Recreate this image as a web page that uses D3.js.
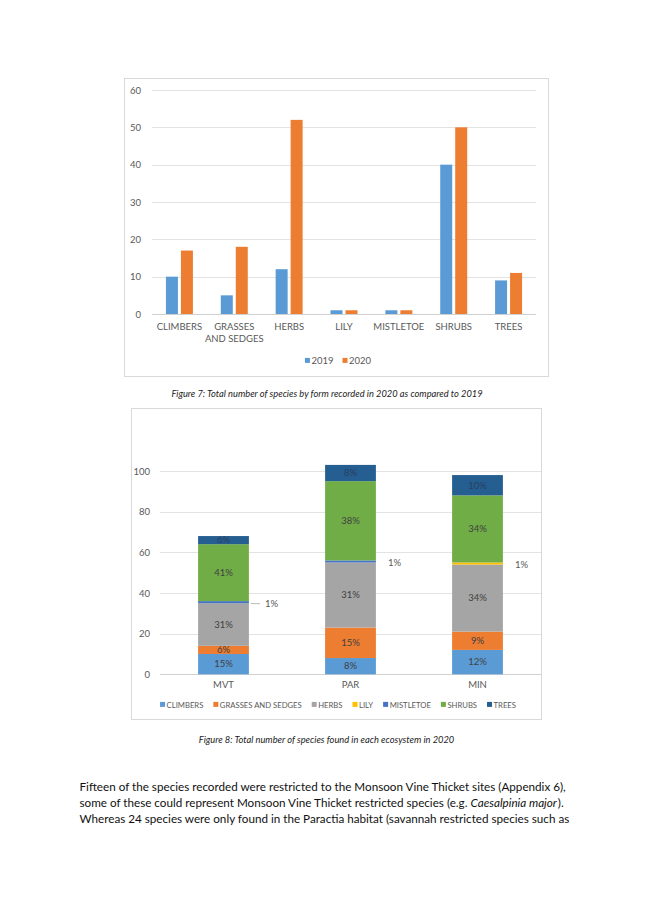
<!DOCTYPE html>
<html lang="en">
  <head>
    <meta charset="utf-8">
    <title>Figure 7 and Figure 8</title>
    <script src="https://d3js.org/d3.v7.js"></script>
    <style>
      body { margin: 0; background: white; }
      text { font-family: Lato, "Liberation Sans", sans-serif; }
    </style>
  </head>
  <body>
    <script>
      // ---- data, figure 7 ----
      const forms = ["CLIMBERS", "GRASSES AND SEDGES", "HERBS", "LILY", "MISTLETOE", "SHRUBS", "TREES"];
      const formLabels = [["CLIMBERS"], ["GRASSES", "AND SEDGES"], ["HERBS"], ["LILY"], ["MISTLETOE"], ["SHRUBS"], ["TREES"]];
      const years = ["2019", "2020"];
      const count2019 = [10, 5, 12, 1, 1, 40, 9];
      const count2020 = [17, 18, 52, 1, 1, 50, 11];
      const yTicks1 = [0, 10, 20, 30, 40, 50, 60];

      // ---- data, figure 8 ----
      const sites = ["MVT", "PAR", "MIN"];
      const climbers = [10, 8, 12];
      const grasses = [4, 15, 9];
      const herbs = [21, 32, 33];
      const lily = [0, 0, 1];
      const mistletoe = [1, 1, 0];
      const shrubs = [28, 39, 33];
      const trees = [4, 8, 10];
      const yTicks2 = [0, 20, 40, 60, 80, 100];

      const formColors = ["#5B9BD5", "#ED7D31", "#A5A5A5", "#FFC000", "#4472C4", "#70AD47", "#255E91"];
      const yearColors = ["#5B9BD5", "#ED7D31"];

      const W = 653, H = 923;
      const svg = d3.select("body").append("svg")
                    .attr("width", W)
                    .attr("height", H);

      svg.append("rect").attr("width", W).attr("height", H).attr("fill", "white");

      const axisGrey = "#595959";
      const gridGrey = "#e3e3e3";

      // draws a legend row centred on cx
      function legend(g, names, colors, cx, cy, size, gap) {
        const items = g.append("g");
        let x = 0;
        names.forEach((n, i) => {
          items.append("rect")
               .attr("x", x).attr("y", cy - 2.6)
               .attr("width", 5).attr("height", 5)
               .attr("fill", colors[i]);
          const t = items.append("text")
                         .attr("x", x + 6.5).attr("y", cy + 3)
                         .attr("font-size", size)
                         .attr("fill", axisGrey)
                         .text(n);
          x += 6.5 + t.node().getComputedTextLength() + gap;
        });
        const total = x - gap;
        items.attr("transform", `translate(${cx - total / 2},0)`);
      }

      // ================= Figure 7 =================
      const f1 = svg.append("g");
      f1.append("rect")
        .attr("x", 124.5).attr("y", 78.5)
        .attr("width", 424).attr("height", 298)
        .attr("fill", "white").attr("stroke", "#d9d9d9");

      const x1 = d3.scaleBand().domain(forms).range([152, 536]);
      const xs1 = d3.scaleBand().domain(years).range([0, x1.bandwidth()])
                    .paddingInner(0.2).paddingOuter(0.93);
      const y1 = d3.scaleLinear().domain([0, 60]).range([314, 90]);

      f1.append("g").selectAll("line").data(yTicks1).join("line")
        .attr("x1", 152).attr("x2", 536)
        .attr("y1", d => Math.round(y1(d)) + 0.5).attr("y2", d => Math.round(y1(d)) + 0.5)
        .attr("stroke", d => d === 0 ? "#d0d0d0" : gridGrey);

      const yAxis1 = d3.axisLeft(y1).tickValues(yTicks1).tickSize(0).tickPadding(0);
      f1.append("g").attr("transform", "translate(141,0)").call(yAxis1)
        .call(g => g.select(".domain").remove())
        .selectAll("text").attr("font-size", 9.5).attr("fill", axisGrey)
        .attr("font-family", "Lato, 'Liberation Sans', sans-serif");

      const series1 = [count2019, count2020];
      series1.forEach((vals, si) => {
        f1.append("g").selectAll("rect").data(vals).join("rect")
          .attr("x", (d, i) => x1(forms[i]) + xs1(years[si]))
          .attr("y", d => y1(d))
          .attr("width", xs1.bandwidth())
          .attr("height", d => y1(0) - y1(d))
          .attr("fill", yearColors[si]);
      });

      formLabels.forEach((lines, i) => {
        const t = f1.append("text")
                    .attr("x", x1(forms[i]) + x1.bandwidth() / 2)
                    .attr("y", 330)
                    .attr("text-anchor", "middle")
                    .attr("font-size", 9.5)
                    .attr("fill", axisGrey);
        lines.forEach((l, k) => {
          t.append("tspan").attr("x", x1(forms[i]) + x1.bandwidth() / 2)
           .attr("dy", k === 0 ? 0 : 11.5).text(l);
        });
      });

      legend(f1, years, yearColors, 338, 360.5, 9.5, 9);

      svg.append("text")
         .attr("x", 327).attr("y", 397)
         .attr("text-anchor", "middle")
         .attr("font-size", 9.3).attr("font-style", "italic")
         .attr("fill", "#222")
         .text("Figure 7: Total number of species by form recorded in 2020 as compared to 2019");

      // ================= Figure 8 =================
      const f2 = svg.append("g");
      f2.append("rect")
        .attr("x", 131.5).attr("y", 408.5)
        .attr("width", 410).attr("height", 311)
        .attr("fill", "white").attr("stroke", "#d9d9d9");

      const x2 = d3.scaleBand().domain(sites).range([160, 541])
                   .paddingInner(0.6).paddingOuter(0.3);
      const y2 = d3.scaleLinear().domain([0, 100]).range([674.3, 471]);

      f2.append("g").selectAll("line").data(yTicks2).join("line")
        .attr("x1", 160).attr("x2", 541)
        .attr("y1", d => Math.round(y2(d)) + 0.5).attr("y2", d => Math.round(y2(d)) + 0.5)
        .attr("stroke", d => d === 0 ? "#d0d0d0" : gridGrey);

      const yAxis2 = d3.axisLeft(y2).tickValues(yTicks2).tickSize(0).tickPadding(0);
      f2.append("g").attr("transform", "translate(150,0)").call(yAxis2)
        .call(g => g.select(".domain").remove())
        .selectAll("text").attr("font-size", 9.5).attr("fill", axisGrey)
        .attr("font-family", "Lato, 'Liberation Sans', sans-serif");

      const layers = [climbers, grasses, herbs, lily, mistletoe, shrubs, trees];
      const rows = sites.map((s, i) => {
        const r = { site: s };
        forms.forEach((f, k) => { r[f] = layers[k][i]; });
        return r;
      });
      const totals = sites.map((s, i) => d3.sum(layers, l => l[i]));
      const stacked = d3.stack().keys(forms)(rows);

      stacked.forEach((layer, k) => {
        const g = f2.append("g");
        g.selectAll("rect").data(layer).join("rect")
         .attr("x", d => x2(d.data.site))
         .attr("y", d => y2(d[1]))
         .attr("width", x2.bandwidth())
         .attr("height", d => y2(d[0]) - y2(d[1]))
         .attr("fill", formColors[k]);
      });

      // percentage labels
      stacked.forEach((layer, k) => {
        layer.forEach((d, i) => {
          const v = d[1] - d[0];
          if (v <= 0) return;
          const pct = Math.round(v / totals[i] * 100) + "%";
          const cy = y2((d[0] + d[1]) / 2);
          if (v / totals[i] < 0.02) {
            // small slice: label sits outside the bar
            const bx = x2(d.data.site) + x2.bandwidth();
            const off = i === 0 ? 16 : 12;
            if (i === 0) {
              f2.append("line")
                .attr("x1", bx + 2).attr("x2", bx + off - 5)
                .attr("y1", cy + 1.5).attr("y2", cy + 1.5)
                .attr("stroke", "#a6a6a6").attr("stroke-width", 0.8);
            }
            f2.append("text")
              .attr("x", bx + off).attr("y", cy + 4.5)
              .attr("font-size", 9.5).attr("fill", axisGrey)
              .text(pct);
          } else {
            f2.append("text")
              .attr("x", x2(d.data.site) + x2.bandwidth() / 2)
              .attr("y", cy + 3.3)
              .attr("text-anchor", "middle")
              .attr("font-size", 9.5)
              .attr("fill", k === 6 ? "#2a3f5f" : "#404040")
              .text(pct);
          }
        });
      });

      const xAxis2 = d3.axisBottom(x2).tickSize(0).tickPadding(0);
      f2.append("g").attr("transform", "translate(0,681.5)").call(xAxis2)
        .call(g => g.select(".domain").remove())
        .selectAll("text").attr("font-size", 9.5).attr("fill", axisGrey)
        .attr("font-family", "Lato, 'Liberation Sans', sans-serif");

      legend(f2, forms, formColors, 338, 704.5, 7.7, 10);

      svg.append("text")
         .attr("x", 326.5).attr("y", 743)
         .attr("text-anchor", "middle")
         .attr("font-size", 9.3).attr("font-style", "italic")
         .attr("fill", "#222")
         .text("Figure 8: Total number of species found in each ecosystem in 2020");

      // ================= body text =================
      const para = svg.append("g").attr("fill", "#111");
      const first = para.append("text").attr("x", 79.5).attr("y", 791)
          .attr("font-size", 12)
          .text("Fifteen of the species recorded were restricted to the Monsoon Vine Thicket sites (Appendix 6),");
      // scale the body size so that the first line spans the same width as in the page
      const fs = 12 * 487 / first.node().getComputedTextLength();
      first.attr("font-size", fs);

      const pieces = [
        ["some of these could represent Monsoon Vine Thicket restricted species (e.g.", "normal", 0.27],
        ["Caesalpinia major", "italic", 0.08],
        [").", "normal", 0]
      ];
      let px = 79.5;
      pieces.forEach(p => {
        const t = para.append("text").attr("x", px).attr("y", 807)
                      .attr("font-size", fs).attr("font-style", p[1])
                      .text(p[0]);
        px += t.node().getComputedTextLength() + p[2] * fs;
      });
      para.append("text").attr("x", 79.5).attr("y", 823)
          .attr("font-size", fs)
          .text("Whereas 24 species were only found in the Paractia habitat (savannah restricted species such as");
    </script>
  </body>
</html>
